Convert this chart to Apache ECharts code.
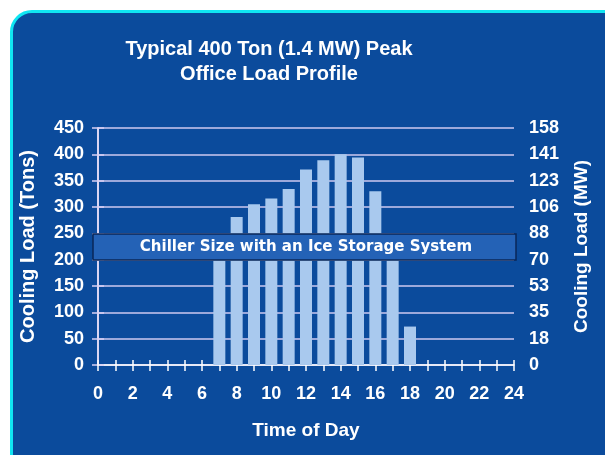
<!DOCTYPE html>
<html>
<head>
<meta charset="utf-8">
<script src="https://cdn.jsdelivr.net/npm/echarts@6/dist/echarts.min.js"></script>
<style>
html,body{margin:0;padding:0;background:#fff;}
#wrap{position:relative;width:605px;height:455px;overflow:hidden;background:#fff;}
#panel{position:absolute;left:10px;top:10px;width:620px;height:480px;background:#0b4b9c;border:3px solid #10e6f2;border-radius:22px;box-sizing:border-box;}
#chart{position:absolute;left:0;top:0;width:605px;height:455px;}
</style>
</head>
<body>
<div id="wrap"><div id="panel"></div><div id="chart"></div></div>
<script>
// Data
const hours = [7, 8, 9, 10, 11, 12, 13, 14, 15, 16, 17, 18];
const loadTons = [230, 281, 305, 316, 334, 371, 389, 400, 394, 330, 230, 73];
const leftTickLabels = ['0','50','100','150','200','250','300','350','400','450'];
const rightTickLabels = ['0','18','35','53','70','88','106','123','141','158'];
const xTickLabels = ['0','2','4','6','8','10','12','14','16','18','20','22','24'];
const titleText = 'Typical 400 Ton (1.4 MW) Peak\nOffice Load Profile';
const bannerText = 'Chiller Size with an Ice Storage System';

const chart = echarts.init(document.getElementById('chart'), null, {renderer: 'canvas'});
const FONT = '"Liberation Sans", Arial, sans-serif';
const axisLabelStyle = {color: '#ffffff', fontSize: 18, fontWeight: 'bold', fontFamily: FONT};
const nameStyle = (s) => ({color: '#ffffff', fontSize: s, fontWeight: 'bold', fontFamily: FONT});

const option = {
  backgroundColor: 'transparent',
  animation: false,
  title: {
    text: titleText,
    left: 264,
    top: 32,
    textAlign: 'center',
    textStyle: {color: '#ffffff', fontSize: 20, fontWeight: 'bold', fontFamily: FONT, lineHeight: 25}
  },
  grid: {left: 98, right: 91, top: 128, bottom: 90, containLabel: false},
  xAxis: [{
    type: 'value', min: 0, max: 24, interval: 1,
    axisLine: {show: true, lineStyle: {color: '#ffffff', width: 1.5}},
    axisTick: {show: true, length: 6, lineStyle: {color: '#ffffff', width: 1.5}},
    axisLabel: Object.assign({}, axisLabelStyle, {margin: 20,
      formatter: v => (v % 2 === 0 ? xTickLabels[v / 2] : '')}),
    splitLine: {show: false},
    name: 'Time of Day', nameLocation: 'middle', nameGap: 56, nameTextStyle: nameStyle(19)
  }, {
    type: 'value', min: 0, max: 24, interval: 1, position: 'bottom',
    axisLine: {show: false},
    axisTick: {show: true, inside: true, length: 5, lineStyle: {color: '#ffffff', width: 1.5}},
    axisLabel: {show: false}, splitLine: {show: false}
  }],
  yAxis: [{
    type: 'value', min: 0, max: 450, interval: 50, position: 'left',
    axisLine: {show: true, lineStyle: {color: '#e8e0f8', width: 1.5}},
    axisTick: {show: true, length: 6, lineStyle: {color: '#d8d0f4', width: 1.5}},
    axisLabel: Object.assign({}, axisLabelStyle, {margin: 14,
      formatter: (v) => leftTickLabels[Math.round(v / 50)]}),
    splitLine: {show: true, lineStyle: {color: '#cfc8f0', width: 1.5}},
    name: 'Cooling Load (Tons)', nameLocation: 'middle', nameRotate: 90, nameGap: 60, nameTextStyle: nameStyle(20)
  }, {
    type: 'value', min: 0, max: 450, interval: 50, position: 'right',
    axisLine: {show: true, lineStyle: {color: '#e8e0f8', width: 1.5}},
    axisTick: {show: true, length: 6, lineStyle: {color: '#d8d0f4', width: 1.5}},
    axisLabel: Object.assign({}, axisLabelStyle, {margin: 15,
      formatter: (v) => rightTickLabels[Math.round(v / 50)]}),
    splitLine: {show: false},
    name: 'Cooling Load (MW)', nameLocation: 'middle', nameRotate: 90, nameGap: 58, nameTextStyle: nameStyle(19)
  }],
  series: [{
    type: 'bar',
    xAxisIndex: 0, yAxisIndex: 0,
    data: hours.map((h, i) => [h, loadTons[i]]),
    barWidth: 12,
    itemStyle: {color: '#a9c9ee'},
    z: 3
  }],
  graphic: [{
    type: 'rect', zlevel: 1, z: 100, shape: {x: 93, y: 234, width: 423, height: 26},
    style: {fill: '#2462b6', stroke: '#0a2758', lineWidth: 1.5}
  }, {
    type: 'text', zlevel: 1, z: 101, x: 306, y: 247,
    style: {text: bannerText, fill: '#ffffff', font: 'bold 15px "DejaVu Sans", sans-serif',
      textAlign: 'center', textVerticalAlign: 'middle'}
  }]
};
chart.setOption(option);
</script>
</body>
</html>
